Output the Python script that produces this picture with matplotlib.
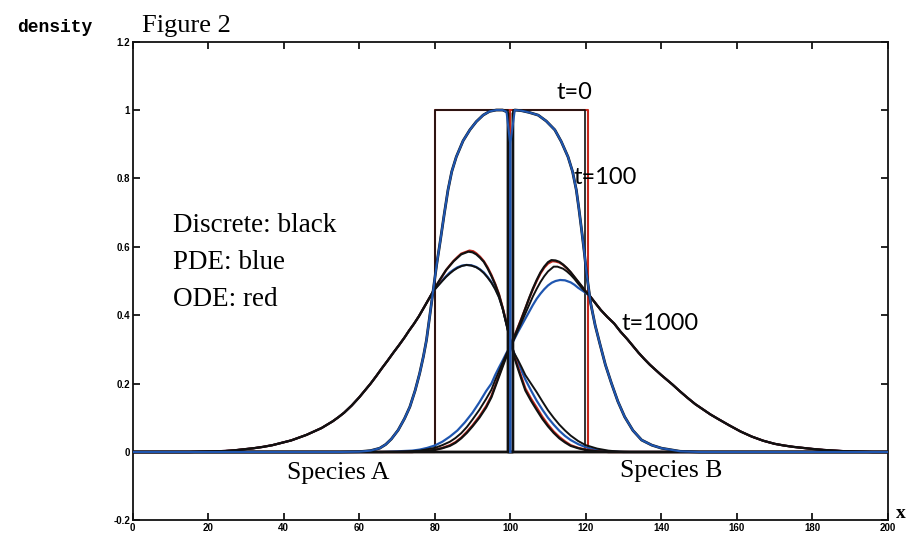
import matplotlib
matplotlib.use("Agg")
import matplotlib.pyplot as plt

# ---------------- data ----------------
# t = 0 initial steps
t0_disc_A_x = [0, 80, 80, 99.4, 99.4, 200]
t0_disc_A_y = [0, 0, 1.0, 1.0, 0, 0]
t0_disc_B_x = [0, 100.7, 100.7, 119.9, 119.9, 200]
t0_disc_B_y = [0, 0, 1.0, 1.0, 0, 0]
t0_ode_A_x = [0, 80.1, 80.1, 100, 100, 200]
t0_ode_A_y = [0, 0, 1.0, 1.0, 0, 0]
t0_ode_B_x = [0, 100, 100, 120.5, 120.5, 200]
t0_ode_B_y = [0, 0, 1.0, 1.0, 0, 0]

# t = 100
t100_A_x = [0, 55, 60, 63, 65.4, 67, 68.5, 70.3, 72, 73.4, 74.8, 76, 77, 77.8, 78.7, 79.6, 80.5,
            81.5, 82.5, 83.5, 84.5, 85.7, 87.5, 89.3, 91, 92.8, 94.5, 96.3, 98, 99.0]
t100_A_y = [0, 0, 0.001, 0.004, 0.011, 0.022, 0.038, 0.064, 0.098, 0.132, 0.18, 0.23, 0.28, 0.327, 0.4,
            0.474, 0.548, 0.62, 0.695, 0.766, 0.82, 0.863, 0.91, 0.942, 0.966, 0.985, 0.996, 1.0, 1.0, 0.995]
t100_B_x = [101.2, 103, 105, 107.4, 109.5, 111.8, 113.5, 115.3, 116.5, 117.5, 118.2, 118.9, 119.6, 120.2,
            121.3, 122.5, 123.7, 125.2, 126.8, 128.5, 130.3, 132.5, 134.8, 137.5, 140.1, 145, 150, 200]
t100_B_y = [1.0, 0.998, 0.993, 0.985, 0.968, 0.942, 0.908, 0.863, 0.82, 0.766, 0.71, 0.649, 0.585, 0.523,
            0.435, 0.37, 0.318, 0.255, 0.201, 0.148, 0.103, 0.063, 0.035, 0.02, 0.011, 0.002, 0, 0]
# position of the sharp drop at the interface (discrete / PDE)
t100_disc_drop_A = [99.4, 99.4, 200]
t100_disc_drop_B = [0, 100.7, 100.7]
t100_pde_drop_A = [100.0, 100.0]
t100_pde_drop_B = [100.0, 100.0]
t100_drop_y_A_disc = [0.99, 0, 0]
t100_drop_y_B_disc = [0, 0, 0.99]
t100_drop_y_A_pde = [0.90, 0]
t100_drop_y_B_pde = [0, 0.90]

# t = 1000, species A: shared broad left tail
A_tail_x = [0, 15, 19, 22, 24.5, 27, 29.5, 32, 34.5, 37, 39.5, 42, 44, 46, 48, 50, 51.5, 53, 54.5, 56,
            58, 60, 61.5, 63, 64.5, 66, 67.5, 69, 70.5, 72, 73.2, 74.5, 75.8, 77, 78.3]
A_tail_y = [0, 0, 0.001, 0.002, 0.003, 0.005, 0.008, 0.011, 0.015, 0.02, 0.027, 0.034, 0.042, 0.05, 0.06,
            0.07, 0.08, 0.09, 0.102, 0.115, 0.136, 0.16, 0.18, 0.2, 0.222, 0.245, 0.267, 0.29, 0.312, 0.335,
            0.355, 0.375, 0.397, 0.42, 0.445]
A1000_disc1_x = [79.6, 80.8, 82, 83, 84, 85, 86, 87, 88.9, 90, 91, 92, 93, 94, 95, 96, 97, 98, 99, 100.3,
                 101, 102, 103, 104, 105.5, 107, 108.5, 110, 111.5, 113, 114.5, 116, 118, 120, 123, 126, 200]
A1000_disc1_y = [0.47, 0.494, 0.515, 0.532, 0.545, 0.558, 0.568, 0.578, 0.586, 0.584, 0.578, 0.568, 0.556,
                 0.537, 0.515, 0.49, 0.46, 0.42, 0.375, 0.313, 0.28, 0.245, 0.212, 0.18, 0.15, 0.123, 0.097,
                 0.075, 0.056, 0.04, 0.028, 0.018, 0.011, 0.006, 0.002, 0, 0]
A1000_ode_x = [79.6, 80.8, 82, 83, 84, 85, 86, 87, 89.2, 90.2, 91, 92, 93, 94, 95, 96, 97, 98, 99, 100.3,
               101, 102, 103, 104, 105.5, 107, 108.5, 110, 111.5, 113, 114.5, 116, 118, 120, 123, 126, 200]
A1000_ode_y = [0.47, 0.493, 0.514, 0.532, 0.546, 0.559, 0.57, 0.58, 0.589, 0.587, 0.581, 0.571, 0.558,
               0.54, 0.518, 0.492, 0.462, 0.422, 0.378, 0.315, 0.284, 0.25, 0.218, 0.186, 0.156, 0.13,
               0.103, 0.08, 0.06, 0.044, 0.031, 0.02, 0.012, 0.007, 0.002, 0, 0]
A1000_disc2_x = [79.6, 80.8, 82, 83, 84, 85, 86, 87.2, 88.4, 89.7, 91, 92, 93, 94, 95, 96, 97, 98, 99,
                 100.3, 101, 102, 103, 104, 105.5, 107, 108.5, 110, 111.5, 113, 114.5, 116, 118, 120, 123,
                 126, 129, 132, 200]
A1000_disc2_y = [0.47, 0.485, 0.5, 0.512, 0.522, 0.531, 0.538, 0.544, 0.547, 0.545, 0.54, 0.533, 0.523,
                 0.51, 0.495, 0.476, 0.452, 0.418, 0.372, 0.313, 0.29, 0.27, 0.248, 0.225, 0.2, 0.175,
                 0.148, 0.122, 0.1, 0.08, 0.063, 0.048, 0.032, 0.02, 0.01, 0.004, 0.001, 0, 0]
A1000_pde_x = [79.6, 80.8, 82, 83, 84, 85, 86, 87.2, 88.4, 89.7, 91, 92, 93, 94, 95, 96, 97, 98, 99,
               100.3, 101, 102, 103, 104, 105.5, 107, 108.5, 110, 111.5, 113, 114.5, 116, 118, 120, 122.5,
               125, 130, 200]
A1000_pde_y = [0.47, 0.487, 0.502, 0.514, 0.525, 0.533, 0.54, 0.545, 0.547, 0.546, 0.541, 0.534, 0.525,
               0.512, 0.497, 0.478, 0.455, 0.42, 0.373, 0.313, 0.29, 0.262, 0.237, 0.212, 0.18, 0.15,
               0.124, 0.1, 0.08, 0.062, 0.047, 0.035, 0.023, 0.014, 0.007, 0.003, 0, 0]

# t = 1000, species B: shared broad right tail
B_tail_x = [122.5, 124, 125.7, 127.5, 129.2, 131, 132.5, 134, 135.5, 137, 138.5, 140, 141.5, 143, 145,
            147, 149, 151, 153, 155, 158, 161, 164, 167, 170, 172.5, 175, 177.5, 180, 183, 186, 189, 192,
            196, 200]
B_tail_y = [0.436, 0.415, 0.395, 0.376, 0.352, 0.33, 0.31, 0.29, 0.272, 0.255, 0.24, 0.225, 0.211, 0.197,
            0.177, 0.158, 0.14, 0.125, 0.11, 0.097, 0.078, 0.06, 0.045, 0.033, 0.024, 0.019, 0.015, 0.012,
            0.009, 0.006, 0.004, 0.002, 0.001, 0, 0]
B1000_disc1_x = [0, 74, 77, 80, 82, 84, 85.5, 87, 88.5, 90, 91.8, 93.6, 95, 96, 97, 98, 99, 100.3, 101,
                 102, 103, 104, 105, 106, 107, 108, 109, 110, 110.9, 112, 113, 114, 115, 116, 117, 118,
                 119, 120, 121.1]
B1000_disc1_y = [0, 0, 0.002, 0.006, 0.011, 0.018, 0.027, 0.04, 0.056, 0.075, 0.1, 0.13, 0.16, 0.19, 0.22,
                 0.25, 0.28, 0.313, 0.335, 0.362, 0.39, 0.42, 0.45, 0.478, 0.503, 0.525, 0.542, 0.555,
                 0.561, 0.56, 0.556, 0.548, 0.538, 0.526, 0.512, 0.498, 0.484, 0.47, 0.456]
B1000_ode_x = [0, 74, 77, 80, 82, 84, 85.5, 87, 88.5, 90, 91.8, 93.6, 95, 96, 97, 98, 99, 100.3, 101,
               102, 103, 104, 105, 106, 107, 108, 109, 110, 111.2, 112, 113, 114, 115, 116, 117, 118,
               119, 120, 121.1]
B1000_ode_y = [0, 0, 0.002, 0.007, 0.012, 0.02, 0.029, 0.042, 0.059, 0.078, 0.104, 0.134, 0.164, 0.194,
               0.224, 0.254, 0.284, 0.315, 0.336, 0.364, 0.392, 0.42, 0.449, 0.476, 0.5, 0.522, 0.539,
               0.551, 0.558, 0.557, 0.554, 0.547, 0.537, 0.525, 0.511, 0.497, 0.483, 0.469, 0.456]
B1000_disc2_x = [0, 70, 73, 76, 78, 80, 82, 84, 85.5, 87, 88.5, 90, 91.8, 93.6, 95, 96, 97, 98, 99,
                 100.3, 101, 102, 103, 104, 105, 106, 107, 108, 109, 110, 111.5, 112.5, 114, 115, 116,
                 117, 118, 119, 120, 121.1]
B1000_disc2_y = [0, 0, 0.002, 0.004, 0.008, 0.012, 0.02, 0.03, 0.041, 0.055, 0.073, 0.095, 0.123, 0.155,
                 0.182, 0.21, 0.236, 0.262, 0.287, 0.313, 0.33, 0.355, 0.38, 0.405, 0.43, 0.455, 0.477,
                 0.497, 0.514, 0.528, 0.542, 0.542, 0.536, 0.528, 0.518, 0.506, 0.492, 0.479, 0.467, 0.456]
B1000_pde_x = [0, 66, 70, 74, 76, 78, 80, 82, 84, 86, 88, 90, 91.8, 93.6, 95, 96, 97, 98, 99, 100.3,
               102, 104, 106, 107, 108, 109, 110, 111, 112, 113.2, 114.5, 116, 117, 118, 119.5, 121.1]
B1000_pde_y = [0, 0, 0.002, 0.004, 0.007, 0.012, 0.019, 0.03, 0.045, 0.063, 0.087, 0.115, 0.145, 0.178,
               0.2, 0.225, 0.247, 0.268, 0.29, 0.313, 0.35, 0.39, 0.43, 0.448, 0.463, 0.476, 0.487, 0.495,
               0.5, 0.503, 0.502, 0.496, 0.489, 0.48, 0.469, 0.456]

x_ticks = [0, 20, 40, 60, 80, 100, 120, 140, 160, 180, 200]
y_ticks = [-0.2, 0, 0.2, 0.4, 0.6, 0.8, 1.0, 1.2]
y_tick_labels = ["-0.2", "0", "0.2", "0.4", "0.6", "0.8", "1", "1.2"]

# ---------------- styling ----------------
BLACK = "#111111"
BLUE = "#1f56b0"
RED = "#c8281c"

fig = plt.figure(figsize=(9.17, 5.35), dpi=100)
ax = fig.add_axes([0.1448, 0.0273, 0.8233, 0.8949])
ax.set_xlim(0, 200)
ax.set_ylim(-0.2, 1.2)

# t = 0
ax.plot(t0_ode_A_x, t0_ode_A_y, color=RED, lw=1.5, zorder=2)
ax.plot(t0_ode_B_x, t0_ode_B_y, color=RED, lw=1.5, zorder=2)
ax.plot(t0_disc_A_x, t0_disc_A_y, color=BLACK, lw=1.2, zorder=2.2)
ax.plot(t0_disc_B_x, t0_disc_B_y, color=BLACK, lw=1.2, zorder=2.2)

# t = 1000
ax.plot(A_tail_x + A1000_pde_x, A_tail_y + A1000_pde_y, color=BLUE, lw=1.6, zorder=2.6)
ax.plot(B1000_pde_x + B_tail_x, B1000_pde_y + B_tail_y, color=BLUE, lw=1.6, zorder=2.6)
ax.plot(A_tail_x + A1000_ode_x, A_tail_y + A1000_ode_y, color=RED, lw=1.6, zorder=2.7)
ax.plot(B1000_ode_x + B_tail_x, B1000_ode_y + B_tail_y, color=RED, lw=1.6, zorder=2.7)
ax.plot(A_tail_x + A1000_disc1_x, A_tail_y + A1000_disc1_y, color=BLACK, lw=1.6, zorder=3)
ax.plot(A_tail_x + A1000_disc2_x, A_tail_y + A1000_disc2_y, color=BLACK, lw=1.4, zorder=3)
ax.plot(B1000_disc1_x + B_tail_x, B1000_disc1_y + B_tail_y, color=BLACK, lw=1.6, zorder=3)
ax.plot(B1000_disc2_x + B_tail_x, B1000_disc2_y + B_tail_y, color=BLACK, lw=1.4, zorder=3)

# t = 100 (discrete in black underneath, PDE in blue on top)
ax.plot(t100_A_x + t100_disc_drop_A, t100_A_y + t100_drop_y_A_disc, color=BLACK, lw=2.0, zorder=3.5)
ax.plot(t100_disc_drop_B + t100_B_x, t100_drop_y_B_disc + t100_B_y, color=BLACK, lw=2.0, zorder=3.5)
ax.plot(t100_A_x + t100_pde_drop_A, t100_A_y + t100_drop_y_A_pde, color=BLUE, lw=1.5, zorder=4)
ax.plot(t100_pde_drop_B + t100_B_x, t100_drop_y_B_pde + t100_B_y, color=BLUE, lw=1.5, zorder=4)

# axes cosmetics
for s in ax.spines.values():
    s.set_linewidth(1.3)
    s.set_color(BLACK)
ax.set_xticks(x_ticks)
ax.set_xticklabels([str(v) for v in x_ticks])
ax.set_yticks(y_ticks)
ax.set_yticklabels(y_tick_labels)
ax.tick_params(direction="in", length=5, width=1.2, top=True, right=True,
               labelsize=7, pad=2)
for lab in ax.get_xticklabels() + ax.get_yticklabels():
    lab.set_fontweight("bold")
    lab.set_family("Liberation Sans")

serif = "Liberation Serif"
sans = "Lato"
ax.text(10.7, 0.644, "Discrete: black", fontsize=19.5, family=serif, va="baseline", zorder=5)
ax.text(10.7, 0.534, "PDE: blue", fontsize=19.5, family=serif, va="baseline", zorder=5)
ax.text(10.7, 0.427, "ODE: red", fontsize=19.5, family=serif, va="baseline", zorder=5)
ax.text(112.3, 1.031, "t=0", fontsize=17, family=sans, va="baseline", zorder=5)
ax.text(116.7, 0.784, "t=100", fontsize=17, family=sans, va="baseline", zorder=5)
ax.text(129.5, 0.357, "t=1000", fontsize=17, family=sans, va="baseline", zorder=5)
ax.text(40.8, -0.08, "Species A", fontsize=18.5, family=serif, va="baseline", zorder=5)
ax.text(129.1, -0.074, "Species B", fontsize=18.5, family=serif, va="baseline", zorder=5)

fig.text(17 / 917, 1 - 31.7 / 535, "density", fontsize=13, family="Liberation Mono",
         fontweight="bold", va="baseline")
fig.text(142 / 917, 1 - 31.7 / 535, "Figure 2", fontsize=19, family=serif, va="baseline")
fig.text(896 / 917, 1 - 518 / 535, "x", fontsize=14, family=serif, fontweight="bold",
         va="baseline")

fig.savefig("out.png", dpi=100)
